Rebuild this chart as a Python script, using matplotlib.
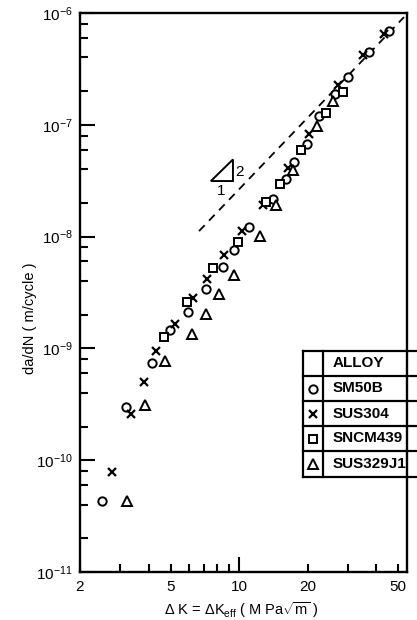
import math
import matplotlib
matplotlib.use("Agg")
import matplotlib.pyplot as plt
from matplotlib.ticker import FixedLocator, FixedFormatter, NullFormatter
from matplotlib.lines import Line2D
from matplotlib.patches import Polygon

# ---- data ----
sm50b_dk = [2.49, 3.18, 4.13, 4.97, 5.97, 7.14, 8.53, 9.5, 11.1, 14.1, 16.0, 17.5,
            19.8, 22.5, 26.4, 30.1, 37.3, 45.6]
sm50b_rate = [4.3e-11, 3.0e-10, 7.4e-10, 1.46e-9, 2.12e-9, 3.42e-9, 5.4e-9, 7.6e-9,
              1.21e-8, 2.17e-8, 3.3e-8, 4.65e-8, 6.8e-8, 1.2e-7, 1.88e-7, 2.7e-7,
              4.5e-7, 6.9e-7]

sus304_dk = [2.76, 3.36, 3.84, 4.30, 5.22, 6.28, 7.23, 8.59, 10.3, 12.7, 16.4, 20.2,
             27.2, 35.1, 43.4]
sus304_rate = [7.9e-11, 2.6e-10, 5.0e-10, 9.5e-10, 1.64e-9, 2.84e-9, 4.14e-9, 6.84e-9,
               1.12e-8, 1.92e-8, 4.1e-8, 8.3e-8, 2.29e-7, 4.17e-7, 6.5e-7]

sncm439_dk = [4.66, 5.93, 7.66, 9.87, 13.1, 15.2, 18.8, 24.0, 28.7]
sncm439_rate = [1.27e-9, 2.62e-9, 5.2e-9, 9.0e-9, 2.06e-8, 2.95e-8, 5.9e-8, 1.27e-7,
                1.95e-7]

sus329j1_dk = [3.21, 3.86, 4.73, 6.21, 7.14, 8.2, 9.5, 12.4, 14.5, 17.2, 22.1, 25.9]
sus329j1_rate = [4.3e-11, 3.1e-10, 7.7e-10, 1.35e-9, 2.02e-9, 3.05e-9, 4.49e-9,
                 1.01e-8, 1.9e-8, 3.95e-8, 9.7e-8, 1.64e-7]

fit_dk = [6.67, 53.1]
fit_rate = [1.12e-8, 9.2e-7]

slope_tri_dk = [7.52, 9.4, 9.4]
slope_tri_rate = [3.14e-8, 3.14e-8, 4.9e-8]

alloy_names = ["SM50B", "SUS304", "SNCM439", "SUS329J1"]
x_labels = {2: "2", 5: "5", 10: "10", 20: "20", 50: "50"}
y_decades = [1e-11, 1e-10, 1e-9, 1e-8, 1e-7, 1e-6]

# ---- style ----
plt.rcParams['font.family'] = ['Liberation Sans', 'DejaVu Sans']
plt.rcParams['mathtext.fontset'] = 'custom'
plt.rcParams['mathtext.rm'] = 'Liberation Sans'
plt.rcParams['mathtext.it'] = 'Liberation Sans:italic'
plt.rcParams['mathtext.bf'] = 'Liberation Sans:bold'

W, H = 417, 620
fig = plt.figure(figsize=(W / 100, H / 100), dpi=100)
L, R, T, B = 80, 407, 13, 572
ax = fig.add_axes([L / W, 1 - B / H, (R - L) / W, (B - T) / H])
ax.set_xscale('log')
ax.set_yscale('log')
ax.set_xlim(2, 54.7)
ax.set_ylim(1e-11, 1e-6)

k = 'black'
ax.plot(fit_dk, fit_rate, color=k, lw=1.3, dashes=(4.5, 3.5))
ms_kw = dict(linestyle='none', mfc='white', mec=k)
ax.plot(sm50b_dk, sm50b_rate, marker='o', ms=6, mew=1.4, **ms_kw)
ax.plot(sus304_dk, sus304_rate, marker='x', ms=5.5, mew=1.6, color=k, linestyle='none')
ax.plot(sncm439_dk, sncm439_rate, marker='s', ms=5.8, mew=1.4, **ms_kw)
ax.plot(sus329j1_dk, sus329j1_rate, marker='^', ms=7, mew=1.4, **ms_kw)

ax.add_patch(Polygon(list(zip(slope_tri_dk, slope_tri_rate)), closed=True,
                     fill=False, ec=k, lw=1.4))
ax.text(10.0, 3.8e-8, "2", fontsize=11, ha='center', va='center')
ax.text(8.3, 2.55e-8, "1", fontsize=11, ha='center', va='center')

for s in ax.spines.values():
    s.set_linewidth(1.7)

# x ticks
ax.xaxis.set_major_locator(FixedLocator([10]))
ax.xaxis.set_major_formatter(FixedFormatter(["10"]))
xminor = [2, 3, 4, 5, 6, 7, 8, 9, 20, 30, 40, 50]
ax.xaxis.set_minor_locator(FixedLocator(xminor))
ax.xaxis.set_minor_formatter(FixedFormatter([x_labels.get(v, "") for v in xminor]))
# y ticks
ax.yaxis.set_major_locator(FixedLocator(y_decades))
ax.yaxis.set_major_formatter(FixedFormatter(
    [r"$10^{%d}$" % round(math.log10(v)) for v in y_decades]))
yminor = [m * d for d in y_decades[:-1] for m in (2, 4, 6, 8)]
ax.yaxis.set_minor_locator(FixedLocator(yminor))
ax.yaxis.set_minor_formatter(NullFormatter())

ax.tick_params(which='major', direction='in', length=11, width=1.5, labelsize=11,
               top=False, right=False, pad=6)
ax.tick_params(which='minor', direction='in', length=6, width=1.5, labelsize=11,
               top=False, right=False, pad=6)
ax.tick_params(axis='y', which='both', pad=5)

# axis labels
fig.text(241 / W, 1 - 610 / H, r"$\Delta$ K = $\Delta$K$_{\rm eff}$ ( M Pa$\sqrt{\rm m}$ )",
         ha='center', va='center', fontsize=10.5)
fig.text(30 / W, 1 - 318 / H, "da/dN ( m/cycle )", rotation=90,
         ha='center', va='center', fontsize=10.5)

# legend table (pixel coordinates)
def fx(x):
    return x / W

def fy(y):
    return 1 - y / H

rows = [350.7, 376, 401, 426, 451, 476.7]
xl, xd, xr = 303.3, 322.7, 420
for y in rows:
    fig.add_artist(Line2D([fx(xl), fx(xr)], [fy(y), fy(y)], color=k, lw=1.6))
fig.add_artist(Line2D([fx(xl), fx(xl)], [fy(rows[0]), fy(rows[-1])], color=k, lw=1.6))
fig.add_artist(Line2D([fx(xd), fx(xd)], [fy(rows[0]), fy(rows[-1])], color=k, lw=1.6))

fig.text(fx(333), fy((rows[0] + rows[1]) / 2), "ALLOY", fontsize=11, fontweight='bold',
         ha='left', va='center')
leg_markers = [dict(marker='o', ms=6, mew=1.4, mfc='white', mec=k),
               dict(marker='x', ms=5.5, mew=1.6, color=k),
               dict(marker='s', ms=5.8, mew=1.4, mfc='white', mec=k),
               dict(marker='^', ms=7, mew=1.4, mfc='white', mec=k)]
for i, name in enumerate(alloy_names):
    yc = (rows[i + 1] + rows[i + 2]) / 2
    fig.add_artist(Line2D([fx(312.7)], [fy(yc)], linestyle='none', **leg_markers[i]))
    fig.text(fx(333), fy(yc), name, fontsize=11, fontweight='bold',
             ha='left', va='center')

fig.savefig("out.png", dpi=100)
